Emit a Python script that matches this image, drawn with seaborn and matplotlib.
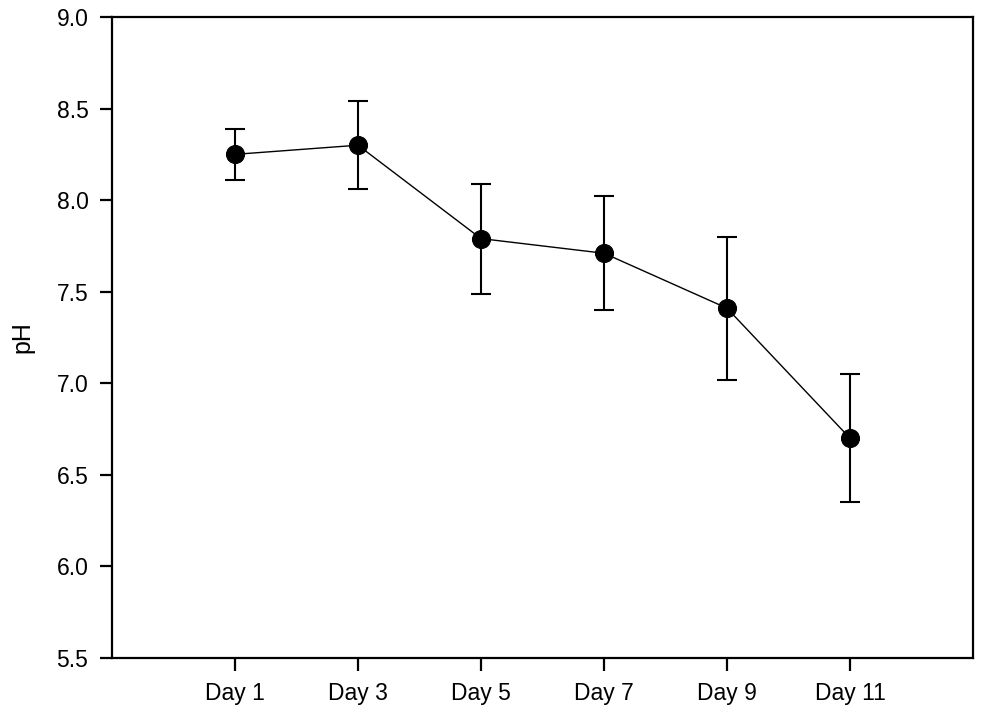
import matplotlib
matplotlib.use("Agg")
import matplotlib.pyplot as plt
import seaborn as sns
import pandas as pd

# valores
days = ["Day 1", "Day 3", "Day 5", "Day 7", "Day 9", "Day 11"]
ph_mean = [8.25, 8.30, 7.79, 7.71, 7.41, 6.70]
ph_err = [0.14, 0.24, 0.30, 0.31, 0.39, 0.35]

df = pd.DataFrame({"pos": range(len(days)), "day": days, "pH": ph_mean, "err": ph_err})

sns.set_style("ticks")
plt.rcParams["font.family"] = ["Liberation Sans", "DejaVu Sans"]

fig = plt.figure(figsize=(9.85, 7.18), dpi=100)
ax = fig.add_axes([112 / 985, 60 / 718, 861 / 985, 641 / 718])

# barras de erro
ax.errorbar(df["pos"], df["pH"], yerr=df["err"], fmt="none", ecolor="black",
            elinewidth=1.5, capsize=7.2, capthick=1.5, zorder=2)

sns.lineplot(data=df, x="pos", y="pH", ax=ax, color="black", linewidth=1,
             marker="o", markersize=13, markeredgecolor="black", zorder=3)

ax.set_xlim(-1, 6)
ax.set_ylim(5.5, 9.0)
ax.set_xticks(df["pos"])
ax.set_xticklabels(days)
ax.set_yticks([5.5, 6.0, 6.5, 7.0, 7.5, 8.0, 8.5, 9.0])
ax.set_yticklabels(["5.5", "6.0", "6.5", "7.0", "7.5", "8.0", "8.5", "9.0"])
ax.set_xlabel("")
ax.set_ylabel("pH", fontsize=18, labelpad=16, color="black")

for s in ax.spines.values():
    s.set_linewidth(1.6)
    s.set_color("black")
ax.tick_params(axis="both", direction="out", length=9, width=1.6, labelsize=16.5,
               colors="black")
ax.tick_params(axis="x", pad=8)
ax.tick_params(axis="y", pad=8)
ax.tick_params(top=False, right=False)

fig.savefig("out.png", dpi=100)
